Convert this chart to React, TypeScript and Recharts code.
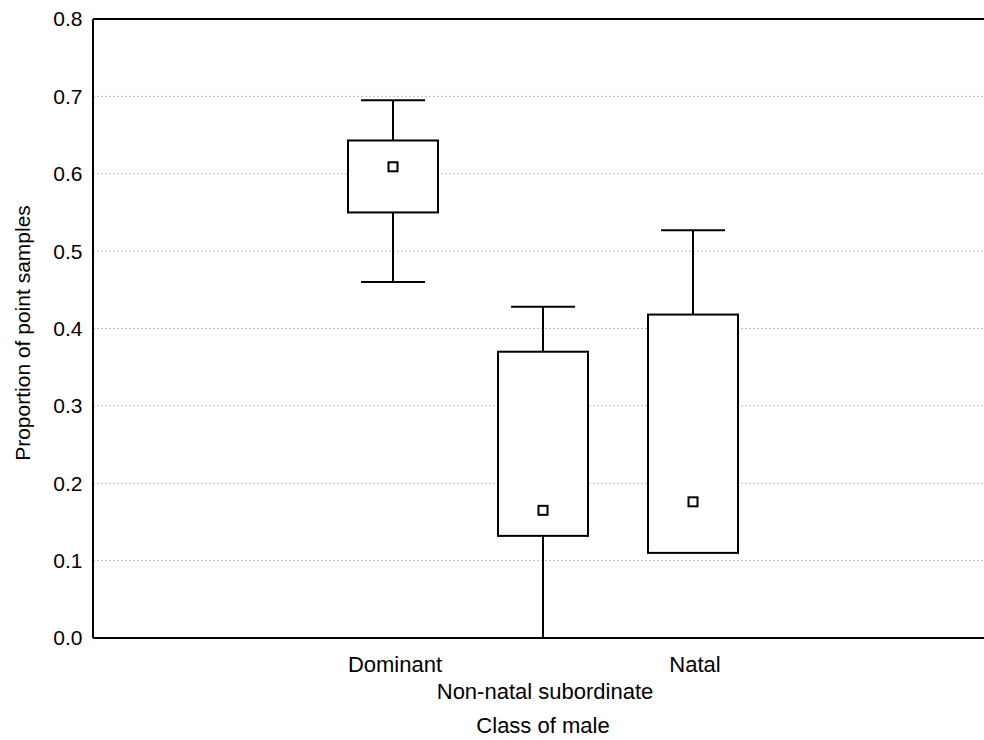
import React from 'react';
import {
  ComposedChart,
  Bar,
  Scatter,
  XAxis,
  YAxis,
  CartesianGrid,
  ReferenceLine,
} from 'recharts';

// box plot per class of male
const categories = ['Dominant', 'Non-natal subordinate', 'Natal'];
const positions = [1, 2, 3];
const whiskerMax = [0.695, 0.428, 0.527];
const boxTop = [0.643, 0.37, 0.418];
const means = [0.609, 0.165, 0.176];
const boxBottom = [0.55, 0.132, 0.11];
const whiskerMin = [0.46, 0.0, 0.11];
const yTicks = [0, 0.1, 0.2, 0.3, 0.4, 0.5, 0.6, 0.7, 0.8];

const xTitle = 'Class of male';
const yTitle = 'Proportion of point samples';

const FONT = "'Liberation Sans', Arial, sans-serif";
const CAP_HALF = 32;

const data = positions.map((x, i) => ({
  x,
  name: categories[i],
  base: whiskerMin[i],
  lowW: boxBottom[i] - whiskerMin[i],
  box: boxTop[i] - boxBottom[i],
  highW: whiskerMax[i] - boxTop[i],
  mean: means[i],
}));

const LowWhisker = (props: any) => {
  const { x, y, width, height } = props;
  if (!height || height <= 0) return null;
  const cx = x + width / 2;
  return (
    <g stroke="#000" strokeWidth={2}>
      <line x1={cx} x2={cx} y1={y} y2={y + height} />
      <line x1={cx - CAP_HALF} x2={cx + CAP_HALF} y1={y + height} y2={y + height} />
    </g>
  );
};

const HighWhisker = (props: any) => {
  const { x, y, width, height } = props;
  if (!height || height <= 0) return null;
  const cx = x + width / 2;
  return (
    <g stroke="#000" strokeWidth={2}>
      <line x1={cx} x2={cx} y1={y} y2={y + height} />
      <line x1={cx - CAP_HALF} x2={cx + CAP_HALF} y1={y} y2={y} />
    </g>
  );
};

const BoxShape = (props: any) => {
  const { x, y, width, height } = props;
  return <rect x={x} y={y} width={width} height={height} fill="#fff" stroke="#000" strokeWidth={2} />;
};

const MeanMarker = (props: any) => {
  const { cx, cy } = props;
  return <rect x={cx - 4.5} y={cy - 4.5} width={9} height={9} fill="#fff" stroke="#000" strokeWidth={2} />;
};

const CategoryTick = (props: any) => {
  const { x, y, payload } = props;
  const idx = positions.indexOf(payload.value);
  if (idx < 0) return null;
  const dy = idx % 2 === 1 ? 61 : 34;
  return (
    <text x={x + 2} y={y + dy} textAnchor="middle" fontSize={22} fill="#000" fontFamily={FONT}>
      {categories[idx]}
    </text>
  );
};

export default function App() {
  return (
    <div
      style={{
        position: 'absolute',
        left: 0,
        top: 0,
        width: 984,
        height: 740,
        overflow: 'hidden',
        background: '#fff',
        fontFamily: FONT,
      }}
    >
      <ComposedChart width={1000} height={740} data={data} margin={{ top: 19, right: 7, left: 0, bottom: 0 }}>
        <CartesianGrid vertical={false} stroke="#bdbdbd" strokeDasharray="2 2" />
        <XAxis
          dataKey="x"
          type="number"
          domain={[-1, 5]}
          ticks={positions}
          height={102}
          tickSize={0}
          tickMargin={0}
          tickLine={false}
          axisLine={{ stroke: '#000', strokeWidth: 2 }}
          tick={<CategoryTick />}
          label={{ value: xTitle, position: 'insideBottom', offset: 7, fontSize: 22, fill: '#000' }}
        />
        <YAxis
          type="number"
          domain={[0, 0.8]}
          ticks={yTicks}
          width={93}
          tickSize={0}
          tickMargin={10.5}
          tickLine={false}
          axisLine={{ stroke: '#000', strokeWidth: 2 }}
          tick={{ fontSize: 21, fill: '#000' }}
          tickFormatter={(v: number) => v.toFixed(1)}
          label={{
            content: () => (
              <text
                x={29.5}
                y={333}
                transform="rotate(-90, 29.5, 333)"
                textAnchor="middle"
                fontSize={21}
                fill="#000"
                fontFamily={FONT}
              >
                {yTitle}
              </text>
            ),
          }}
        />
        <ReferenceLine y={0.8} stroke="#000" strokeWidth={2} />
        <Bar dataKey="base" stackId="bp" barSize={90} fill="transparent" isAnimationActive={false} />
        <Bar dataKey="lowW" stackId="bp" barSize={90} shape={<LowWhisker />} isAnimationActive={false} />
        <Bar dataKey="box" stackId="bp" barSize={90} shape={<BoxShape />} isAnimationActive={false} />
        <Bar dataKey="highW" stackId="bp" barSize={90} shape={<HighWhisker />} isAnimationActive={false} />
        <Scatter dataKey="mean" shape={<MeanMarker />} isAnimationActive={false} />
      </ComposedChart>
    </div>
  );
}
